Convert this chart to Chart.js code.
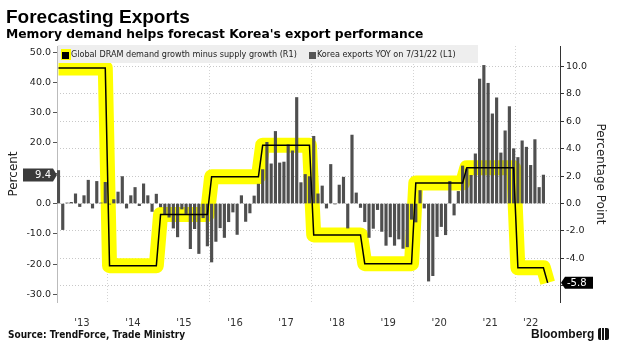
<!DOCTYPE html>
<html>
<head>
<meta charset="utf-8">
<script src="https://cdn.jsdelivr.net/npm/chart.js@4.4.0/dist/chart.umd.min.js"></script>
<style>
  body { margin: 0; background: #fff; }
  #wrap { position: relative; width: 617px; height: 360px; overflow: hidden; background: #fff; }
  #chart { position: absolute; left: 0; top: 0; }
  .title { position: absolute; left: 6px; top: 7px; font: bold 19px/19px "Liberation Sans", Arial, sans-serif; color: #000; white-space: nowrap; }
  .subtitle { position: absolute; left: 6px; top: 28px; font: bold 12.3px/13px "DejaVu Sans", sans-serif; color: #000; white-space: nowrap; }
  .legend { position: absolute; left: 58px; top: 45px; width: 420px; height: 18px; background: #eeeeee;
            font: 9px/18px "DejaVu Sans Condensed", "DejaVu Sans", sans-serif; color: #222; white-space: nowrap; }
  .legend .hl { position: absolute; left: 3px; top: 4px; width: 10px; height: 11px; background: #ffff00; }
  .legend .box { position: absolute; top: 7px; width: 7px; height: 7px; }
  .legend .txt { position: absolute; top: 0; }
  .source { position: absolute; left: 8px; top: 329px; font: bold 10px/12px "DejaVu Sans Condensed", "DejaVu Sans", sans-serif; color: #111; white-space: nowrap; }
  .brand { position: absolute; left: 531px; top: 327px; font: bold 12px/14px "Liberation Sans", Arial, sans-serif; color: #111; white-space: nowrap; }
  .brand i { display: inline-block; width: 11px; height: 12px; margin-left: 4px; vertical-align: -2px; border-radius: 2px;
             background: linear-gradient(90deg, #111 0 3px, #fff 3px 4px, #111 4px 6px, #fff 6px 7px, #111 7px); }
</style>
</head>
<body>
<div id="wrap">
  <canvas id="chart" width="617" height="360"></canvas>
  <div class="title">Forecasting Exports</div>
  <div class="subtitle">Memory demand helps forecast Korea's export performance</div>
  <div class="legend">
    <span class="hl"></span>
    <span class="box" style="left:4px;background:#000"></span>
    <span class="txt" style="left:13px">Global DRAM demand growth minus supply growth (R1)</span>
    <span class="box" style="left:251px;background:#555"></span>
    <span class="txt" style="left:259px">Korea exports YOY on 7/31/22 (L1)</span>
  </div>
  <div class="source">Source: TrendForce, Trade Ministry</div>
  <div class="brand">Bloomberg<i></i></div>
</div>
<script>
// Korea exports, % YoY, monthly from Jan 2013 to Jul 2022 (left axis)
const koreaExportsYoY = [
  10.9, -8.6, 0.2, 0.4, 3.2, -1.0, 2.6, 7.7, -1.5, 7.3, 0.2, 7.0,        // 2013
  -0.2, 1.3, 3.8, 8.9, -1.5, 2.6, 5.3, -0.7, 6.5, 2.6, -2.6, 3.1,       // 2014
  -1.1, -3.4, -4.5, -8.1, -11.0, -1.8, -3.3, -14.9, -8.3, -16.5, -4.7, -14.0, // 2015
  -19.3, -12.5, -8.0, -11.2, -6.0, -2.8, -10.2, 2.6, -5.9, -3.1, 2.5, 6.4,    // 2016
  11.2, 20.2, 13.1, 23.8, 13.4, 13.7, 19.4, 17.4, 35.0, 6.9, 9.6, 8.9,  // 2017
  22.2, 3.2, 5.8, -1.5, 12.9, -0.1, 6.1, 8.7, -8.1, 22.6, 3.5, -1.3,    // 2018
  -6.0, -11.2, -8.2, -2.0, -9.2, -13.8, -11.0, -13.8, -11.7, -14.8, -14.3, -5.2, // 2019
  -6.1, 4.3, -1.5, -25.6, -23.8, -10.9, -7.6, -10.3, 7.3, -3.8, 4.0, 12.4,    // 2020
  11.4, 9.3, 16.4, 41.1, 45.6, 39.7, 29.6, 34.9, 16.7, 24.0, 32.0, 18.1, // 2021
  15.2, 20.7, 18.6, 12.6, 21.1, 5.3, 9.4                                 // 2022
];

// global DRAM demand growth minus supply growth, percentage points (right axis)
const dramYears = ['2013', '2014', '2015', '2016', '2017', '2018', '2019', '2020', '2021', '2022'];
const dramGap = [9.9, -4.55, -0.8, 1.95, 4.25, -2.3, -4.4, 1.5, 2.6, -4.7];
const dramLatest = -5.8;

const yearLabels = ["'13", "'14", "'15", "'16", "'17", "'18", "'19", "'20", "'21", "'22"];

const lastMonth = koreaExportsYoY.length - 1;

const exportPoints = koreaExportsYoY.map((v, i) => ({ x: i, y: v }));

const dramPoints = [];
dramGap.forEach((v, k) => {
    dramPoints.push({ x: 12 * k, y: v });
    dramPoints.push({ x: Math.min(12 * k + 11, lastMonth), y: v });
});
dramPoints.push({ x: lastMonth + 1, y: dramLatest });

// x ticks: year labels centred on the visible part of each year,
// plus unlabeled ticks at every second year start for the dotted grid
function buildXTicks(scale) {
    let ticks = [];
    yearLabels.forEach((lab, k) => {
        let start = 12 * k - 0.5;
        let end = Math.min(12 * k + 11.5, lastMonth + 0.5);
        ticks.push({ value: (start + end) / 2, yearLabel: lab });
    });
    for (let k = 1; k < yearLabels.length; k += 2) {
        ticks.push({ value: 12 * k - 0.5, isGrid: true });
    }
    ticks.sort((a, b) => a.value - b.value);
    scale.ticks = ticks;
}

function drawTag(ctx, x1, x2, tipX, y, h, color, text, pointLeft) {
    ctx.save();
    ctx.fillStyle = color;
    ctx.beginPath();
    if (pointLeft) {
        ctx.moveTo(tipX, y);
        ctx.lineTo(x1, y - h / 2);
        ctx.lineTo(x2, y - h / 2);
        ctx.lineTo(x2, y + h / 2);
        ctx.lineTo(x1, y + h / 2);
    } else {
        ctx.moveTo(x1, y - h / 2);
        ctx.lineTo(x2, y - h / 2);
        ctx.lineTo(tipX, y);
        ctx.lineTo(x2, y + h / 2);
        ctx.lineTo(x1, y + h / 2);
    }
    ctx.closePath();
    ctx.fill();
    ctx.fillStyle = '#fff';
    ctx.font = '10px "DejaVu Sans", sans-serif';
    ctx.textBaseline = 'middle';
    if (pointLeft) {
        ctx.textAlign = 'left';
        ctx.fillText(text, x1 + 2, y + 0.5);
    } else {
        ctx.textAlign = 'right';
        ctx.fillText(text, x2 - 2, y + 0.5);
    }
    ctx.restore();
}

const tagPlugin = {
    id: 'lastValueTags',
    afterDraw(chart) {
        let ctx = chart.ctx;
        let area = chart.chartArea;
        let lastExp = koreaExportsYoY[lastMonth];
        let yl = chart.scales.y.getPixelForValue(lastExp);
        drawTag(ctx, 23, 53, area.left, yl, 13, '#3b3b3b', lastExp.toFixed(1), false);
        let yr = chart.scales.y1.getPixelForValue(dramLatest);
        drawTag(ctx, 565, 593, area.right + 1, yr, 12, '#000', dramLatest.toFixed(1), true);
    }
};

const tickFont = { family: '"DejaVu Sans", sans-serif', size: 9.5 };

new Chart(document.getElementById('chart'), {
    type: 'bar',
    data: {
        datasets: [{
            type: 'line',
            label: 'Global DRAM demand growth minus supply growth (R1)',
            data: dramPoints,
            yAxisID: 'y1',
            borderColor: '#000',
            borderWidth: 1.5,
            pointRadius: 0,
            tension: 0,
            order: 0
        }, {
            type: 'bar',
            label: 'Korea exports YOY on 7/31/22 (L1)',
            data: exportPoints,
            yAxisID: 'y',
            backgroundColor: '#4f4f4f',
            barThickness: 2.5,
            order: 1
        }, {
            type: 'line',
            label: 'highlight',
            data: dramPoints,
            yAxisID: 'y1',
            borderColor: '#ffff00',
            borderWidth: 15,
            borderJoinStyle: 'round',
            pointRadius: 0,
            tension: 0,
            order: 2
        }]
    },
    options: {
        responsive: false,
        animation: false,
        layout: { padding: { top: 46, left: 0, right: 0, bottom: 0 } },
        plugins: {
            legend: { display: false },
            tooltip: { enabled: false }
        },
        scales: {
            x: {
                type: 'linear',
                offset: false,
                min: -0.35,
                max: 117.9,
                afterBuildTicks: buildXTicks,
                afterFit: (scale) => { scale.height = 58; },
                grid: {
                    offset: false,
                    drawTicks: false,
                    color: (c) => (c.tick && c.tick.isGrid) ? '#d4d4d4' : 'rgba(0,0,0,0)',
                    lineWidth: 1
                },
                border: { display: false, dash: [1, 2] },
                ticks: {
                    autoSkip: false,
                    maxRotation: 0,
                    padding: 15,
                    color: '#333',
                    font: { family: '"DejaVu Sans", sans-serif', size: 10 },
                    callback: (v, i, ticks) => ticks[i].yearLabel || ''
                }
            },
            y: {
                position: 'left',
                min: -32.5,
                max: 52,
                afterFit: (scale) => { scale.width = 57; },
                grid: { drawOnChartArea: false, tickLength: 4, tickColor: '#555' },
                border: { color: '#bbbbbb' },
                ticks: {
                    stepSize: 10,
                    includeBounds: false,
                    padding: 2,
                    color: '#222',
                    font: tickFont,
                    callback: (v) => v.toFixed(1)
                },
                title: {
                    display: true,
                    text: 'Percent',
                    color: '#222',
                    font: { family: '"DejaVu Sans", sans-serif', size: 12 },
                    padding: { top: 7, bottom: 0 }
                }
            },
            y1: {
                position: 'right',
                min: -7.2,
                max: 11.5,
                afterFit: (scale) => { scale.width = 57; },
                grid: { color: '#c8c8c8', tickLength: 4, tickColor: '#333', tickBorderDash: [] },
                border: { color: '#333', dash: [1, 2] },
                ticks: {
                    stepSize: 2,
                    includeBounds: false,
                    padding: 2,
                    color: '#222',
                    font: tickFont,
                    callback: (v) => v.toFixed(1)
                },
                title: {
                    display: true,
                    text: 'Percentage Point',
                    color: '#222',
                    font: { family: '"DejaVu Sans", sans-serif', size: 12 },
                    padding: { top: 10, bottom: 0 }
                }
            }
        }
    },
    plugins: [tagPlugin]
});
</script>
</body>
</html>
